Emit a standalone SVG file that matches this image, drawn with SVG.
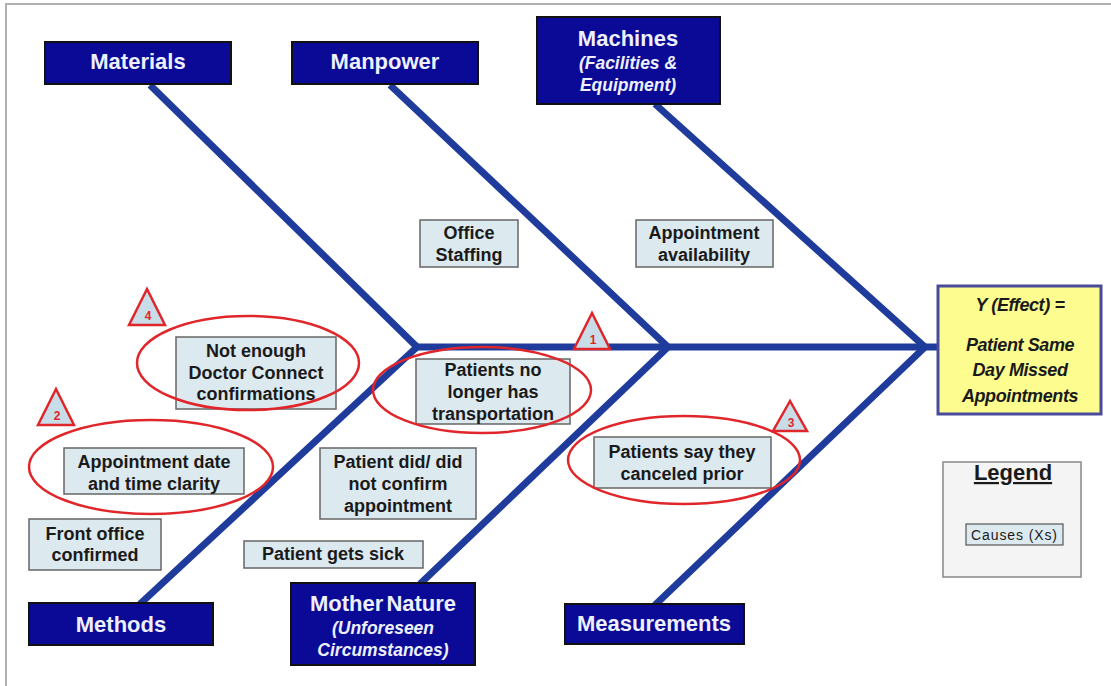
<svg xmlns="http://www.w3.org/2000/svg" width="1111" height="686" viewBox="0 0 1111 686">
<defs>
<style>
.cat rect{fill:#0a0a96;stroke:#111;stroke-width:2}
.cat text{font-family:"Liberation Sans",Arial,sans-serif;font-weight:bold;fill:#eef0ff;text-anchor:middle}
.cat .t{font-size:22px}
.cat .s{font-size:17.5px;font-style:italic}
.cause rect{fill:#dce9ef;stroke:#666;stroke-width:1.5}
.cause text{font-family:"Liberation Sans",Arial,sans-serif;font-weight:bold;font-size:18px;fill:#1a1a1a;text-anchor:middle}
.bone{stroke:#1f3c9c;stroke-width:7;fill:none;stroke-linecap:butt}
.ring{fill:none;stroke:#e0262b;stroke-width:2.5}
.tri polygon{fill:#c9dde8;stroke:#e0262b;stroke-width:2.5;stroke-linejoin:miter}
.tri text{font-family:"Liberation Sans",Arial,sans-serif;font-weight:bold;font-size:12px;fill:#e0262b;text-anchor:middle}
</style>
</defs>
<rect width="1111" height="686" fill="#fff"/>
<rect x="6" y="4" width="1120" height="700" fill="none" stroke="#b0b0b0" stroke-width="2"/>
<g id="connectors">
<line class="bone" x1="415" y1="347" x2="940" y2="347"/>
<line class="bone" x1="150" y1="85" x2="417" y2="347"/>
<line class="bone" x1="390" y1="85" x2="668" y2="347"/>
<line class="bone" x1="655" y1="104" x2="925" y2="347"/>
<line class="bone" x1="140" y1="604" x2="417" y2="347"/>
<line class="bone" x1="420" y1="584" x2="668" y2="347"/>
<line class="bone" x1="655" y1="605" x2="925" y2="347"/>
</g>
<g id="materials" class="cat"><rect x="45" y="42" width="186" height="42"/><text class="t" x="138" y="69">Materials</text></g>
<g id="manpower" class="cat"><rect x="292" y="42" width="186" height="42"/><text class="t" x="385" y="69">Manpower</text></g>
<g id="machines" class="cat"><rect x="537" y="17" width="183" height="87"/><text class="t" x="628" y="46">Machines</text><text class="s" x="628" y="69">(Facilities &amp;</text><text class="s" x="628" y="91">Equipment)</text></g>
<g id="methods" class="cat"><rect x="29" y="603" width="184" height="42"/><text class="t" x="121" y="632">Methods</text></g>
<g id="mothernature" class="cat"><rect x="291" y="583" width="184" height="82"/><text class="t" x="383" y="611" word-spacing="-3">Mother Nature</text><text class="s" x="383" y="634">(Unforeseen</text><text class="s" x="383" y="656">Circumstances)</text></g>
<g id="measurements" class="cat"><rect x="565" y="604" width="179" height="40"/><text class="t" x="654" y="631">Measurements</text></g>
<g id="effect"><rect x="938" y="286" width="163" height="128" fill="#fdfd8f" stroke="#4a4a9a" stroke-width="3"/>
<g font-family="Liberation Sans,Arial,sans-serif" font-weight="bold" font-style="italic" font-size="18" letter-spacing="-0.4" fill="#1a1a1a" text-anchor="middle"><text x="1020" y="311">Y (Effect) =</text><text x="1020" y="351">Patient Same</text><text x="1020" y="376">Day Missed</text><text x="1020" y="402">Appointments</text></g></g>
<g id="legend"><rect x="943" y="462" width="138" height="115" fill="#f4f4f4" stroke="#888" stroke-width="1.5"/>
<text x="1013" y="480" font-family="Liberation Sans,Arial,sans-serif" font-weight="bold" font-size="22" fill="#1a1a1a" text-anchor="middle" text-decoration="underline">Legend</text>
<rect x="966" y="524" width="97" height="21" fill="#dce9ef" stroke="#555" stroke-width="1.2"/>
<text x="1014" y="540" font-family="Liberation Sans,Arial,sans-serif" font-size="14" fill="#1a1a1a" text-anchor="middle" textLength="86">Causes (Xs)</text></g>
<g id="office-staffing" class="cause"><rect x="420" y="220" width="98" height="47"/><text x="469" y="239">Office</text><text x="469" y="261">Staffing</text></g>
<g id="appt-availability" class="cause"><rect x="636" y="220" width="137" height="47"/><text x="704" y="239">Appointment</text><text x="704" y="261">availability</text></g>
<g id="not-enough" class="cause"><rect x="176" y="337" width="160" height="72"/><text x="256" y="357">Not enough</text><text x="256" y="379">Doctor Connect</text><text x="256" y="400">confirmations</text></g>
<g id="transport" class="cause"><rect x="416" y="359" width="154" height="65"/><text x="493" y="376">Patients no</text><text x="493" y="398">longer has</text><text x="493" y="420">transportation</text></g>
<g id="date-clarity" class="cause"><rect x="64" y="448" width="180" height="46"/><text x="154" y="468">Appointment date</text><text x="154" y="490">and time clarity</text></g>
<g id="did-not-confirm" class="cause"><rect x="320" y="448" width="156" height="71"/><text x="398" y="468">Patient did/ did</text><text x="398" y="490">not confirm</text><text x="398" y="512">appointment</text></g>
<g id="canceled" class="cause"><rect x="594" y="437" width="177" height="51"/><text x="682" y="458">Patients say they</text><text x="682" y="480">canceled prior</text></g>
<g id="front-office" class="cause"><rect x="29" y="519" width="132" height="51"/><text x="95" y="540">Front office</text><text x="95" y="561">confirmed</text></g>
<g id="gets-sick" class="cause"><rect x="244" y="541" width="179" height="27"/><text x="333" y="560">Patient gets sick</text></g>
<g id="highlights">
<ellipse class="ring" cx="248" cy="363" rx="111" ry="47"/>
<ellipse class="ring" cx="482" cy="390" rx="109" ry="43"/>
<ellipse class="ring" cx="151" cy="467" rx="122" ry="47"/>
<ellipse class="ring" cx="684" cy="460" rx="116" ry="44"/>
</g>
<g id="tri-4" class="tri"><polygon points="147,289 129,325 165,325"/><text x="148" y="320">4</text></g>
<g id="tri-2" class="tri"><polygon points="56,389 38,425 74,425"/><text x="57" y="420">2</text></g>
<g id="tri-1" class="tri"><polygon points="592,313 574,349 610,349"/><text x="593" y="344">1</text></g>
<g id="tri-3" class="tri"><polygon points="790,401 773,431 807,431"/><text x="791" y="427">3</text></g>
</svg>
